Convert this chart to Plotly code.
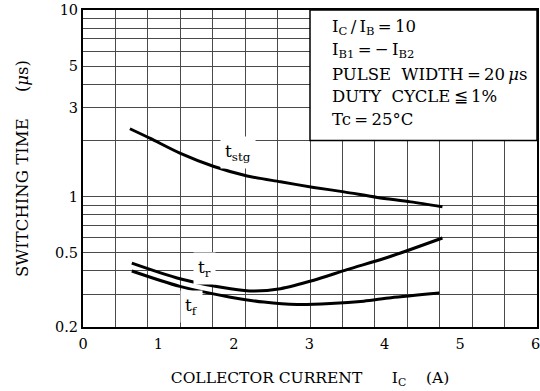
import math
import plotly.graph_objects as go

# ---- data ----
tstg_x = [0.62, 0.89, 1.28, 1.73, 2.17, 2.61, 3.05, 3.45, 3.89, 4.33, 4.75]
tstg_y = [2.31, 2.05, 1.71, 1.45, 1.29, 1.20, 1.12, 1.06, 0.99, 0.937, 0.881]

tr_x = [0.645, 1.28, 1.95, 2.26, 2.61, 3.05, 3.49, 4.07, 4.75]
tr_y = [0.44, 0.363, 0.321, 0.312, 0.321, 0.356, 0.406, 0.479, 0.60]

tf_x = [0.645, 1.28, 1.95, 2.39, 2.83, 3.27, 3.71, 4.07, 4.71]
tf_y = [0.399, 0.330, 0.289, 0.272, 0.264, 0.267, 0.275, 0.287, 0.304]

x_ticks = [0, 1, 2, 3, 4, 5, 6]
x_ticktext = ["0", "1", "2", "3", "4", "5", "6"]
x_grid = [k * 6 / 14 for k in range(15)]

y_grid = [0.2, 0.3, 0.4, 0.5, 0.6, 0.7, 0.8, 0.9, 1, 2, 3, 4, 5, 6, 7, 8, 9, 10]
y_labels = {0.2: "0.2", 0.5: "0.5", 1: "1", 3: "3", 5: "5", 10: "10"}
y_ticktext = [y_labels.get(v, "") for v in y_grid]

cond_lines = [
    "I<sub>C</sub>\u2009/\u2009I<sub>B</sub>\u2009=\u200910",
    "I<sub>B1</sub>\u2009=\u2009\u2212\u2009I<sub>B2</sub>",
    "PULSE\u00a0 WIDTH\u2009=\u200920\u2009<i>\u03bc</i>s",
    "DUTY\u00a0 CYCLE\u2009\u2266\u20091%",
    "Tc\u2009=\u200925\u00b0C",
]

FONT = "DejaVu Serif"
GRID = "#4a4a4a"
NB = "\u00a0"

fig = go.Figure()
for xs, ys in [(tstg_x, tstg_y), (tr_x, tr_y), (tf_x, tf_y)]:
    fig.add_trace(go.Scatter(x=xs, y=ys, mode="lines",
                             line=dict(color="black", width=3, shape="spline", smoothing=0.8),
                             showlegend=False, hoverinfo="skip"))
# invisible trace to carry the labelled x axis
fig.add_trace(go.Scatter(x=x_ticks, y=[None] * len(x_ticks), xaxis="x2", mode="none",
                         showlegend=False, hoverinfo="skip"))

fig.update_layout(
    width=540, height=391,
    margin=dict(l=83, r=3, t=10, b=64),
    paper_bgcolor="white", plot_bgcolor="white",
    font=dict(family=FONT, color="black", size=15),
    xaxis=dict(range=[0, 6], tickvals=x_grid, showticklabels=False, ticks="",
               showgrid=True, gridcolor=GRID, gridwidth=1, automargin=False,
               showline=True, linecolor="black", linewidth=2, mirror=True, zeroline=False),
    xaxis2=dict(overlaying="x", anchor="y", side="bottom", range=[0, 6.02], automargin=False,
                tickvals=x_ticks, ticktext=x_ticktext, ticks="", showgrid=False,
                ticklabelstandoff=6, ticklabeloverflow="allow",
                showline=False, zeroline=False, tickfont=dict(family=FONT, size=14.5),
                title=dict(text="COLLECTOR CURRENT" + NB * 6 + "I<sub>C</sub>" + NB * 4 + "(A)",
                           font=dict(family=FONT, size=15.5), standoff=21)),
    yaxis=dict(type="log", range=[math.log10(0.2), 1], tickvals=y_grid, ticktext=y_ticktext,
               ticks="", showgrid=True, gridcolor=GRID, gridwidth=1, automargin=False,
               ticklabeloverflow="allow",
               showline=True, linecolor="black", linewidth=2, mirror=True, zeroline=False,
               tickfont=dict(family=FONT, size=14.5),
               title=dict(text="SWITCHING TIME" + NB * 5 + "(<i>\u03bc</i>s)",
                          font=dict(family=FONT, size=16.5), standoff=22)),
)

# conditions box
box_bottom = (math.log10(2) - math.log10(0.2)) / (1 - math.log10(0.2))
fig.add_shape(type="rect", xref="x", yref="paper", x0=3, x1=6, y0=box_bottom, y1=1,
              fillcolor="white", line=dict(color="black", width=1.5), layer="above")
line_y = [0.945, 0.873, 0.797, 0.726, 0.654]
for txt, yy in zip(cond_lines, line_y):
    fig.add_annotation(text=txt, xref="paper", yref="paper", x=0.544, y=yy,
                       xanchor="left", yanchor="middle", showarrow=False,
                       font=dict(family=FONT, size=16.5, color="black"))

# curve labels
for txt, xx, yy in [("t<sub>stg</sub>", 2.05, 0.55), ("t<sub>r</sub>", 1.61, 0.186),
                    ("t<sub>f</sub>", 1.44, 0.066)]:
    fig.add_annotation(text=txt, xref="x", yref="paper", x=xx, y=yy, showarrow=False,
                       xanchor="center", yanchor="middle",
                       font=dict(family=FONT, size=17, color="black"),
                       bgcolor="white", borderpad=4)

# remove the default page margin so the figure fills the window exactly
fig.write_html("out.html", config={"displayModeBar": False},
               post_script="document.body.style.margin='0';")
